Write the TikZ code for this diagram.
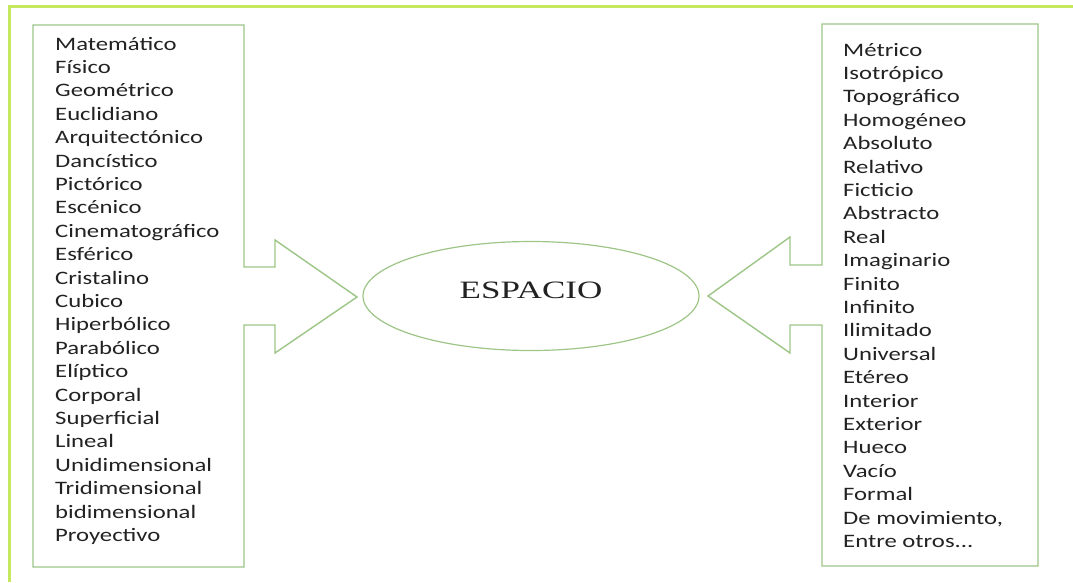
\documentclass[tikz,border=0pt]{standalone}
\usepackage{fontspec}
\setmainfont{Carlito}[FakeStretch=1.3]
\newfontfamily\espfont{Liberation Serif}[FakeStretch=1.4]
\usetikzlibrary{shapes.geometric}
\definecolor{boxgreen}{HTML}{9CC586}
\definecolor{framegreen}{HTML}{C6E85E}
\definecolor{txt}{HTML}{222222}
\newcommand\mythreedots{...}
\tikzset{
  item/.style={anchor=base west, inner sep=0pt, text=txt, font=\fontsize{19}{23}\selectfont},
  shapeline/.style={draw=boxgreen, line width=1.4pt, line join=miter},
  frameline/.style={draw=framegreen, line width=3pt},
}
\begin{document}
\begin{tikzpicture}[x=1pt,y=-1pt]
\useasboundingbox (0,0) rectangle (1073,582);
% outer frame
\draw[frameline] (9,582) -- (9,6) -- (1073,6);
% left box with arrow
\draw[shapeline] (33,25) -- (244,25) -- (244,267) -- (275,267) -- (275,240) -- (357,297)
  -- (275,353) -- (275,325) -- (244,325) -- (244,567) -- (33,567) -- cycle;
% right box with arrow
\draw[shapeline] (822,24) -- (1038,24) -- (1038,566) -- (822,566) -- (822,325) -- (790,325)
  -- (790,353) -- (708,296) -- (790,237) -- (790,265) -- (822,265) -- cycle;
% center ellipse
\node[ellipse, draw=boxgreen, line width=1.2pt, minimum width=336pt, minimum height=109pt,
  inner sep=0pt, text=txt, font=\espfont\fontsize{25}{30}\selectfont,
  text height=14pt, text depth=10pt] (esp) at (531,296) {ESPACIO};
% left list
\foreach \t [count=\i] in {Matemático,Físico,Geométrico,Euclidiano,Arquitectónico,Dancístico,
  Pictórico,Escénico,Cinematográfico,Esférico,Cristalino,Cubico,Hiperbólico,Parabólico,
  Elíptico,Corporal,Superficial,Lineal,Unidimensional,Tridimensional,bidimensional,Proyectivo}
  \node[item] (L\i) at (55,{50+23.4*(\i-1)}) {\t};
% right list
\foreach \t [count=\i] in {Métrico,Isotrópico,Topográfico,Homogéneo,Absoluto,Relativo,
  Ficticio,Abstracto,Real,Imaginario,Finito,Infinito,Ilimitado,Universal,Etéreo,Interior,
  Exterior,Hueco,Vacío,Formal,{De movimiento,},{Entre otros\mythreedots}}
  \node[item] (R\i) at (843,{56+23.4*(\i-1)}) {\t};
\end{tikzpicture}
\end{document}
